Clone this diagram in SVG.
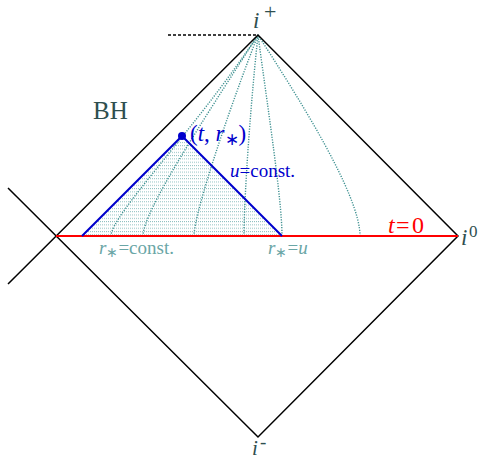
<svg xmlns="http://www.w3.org/2000/svg" width="482" height="461" viewBox="0 0 482 461">
<style>
text{font-family:"Liberation Serif","Times New Roman",serif}
.blk{stroke:#000;stroke-width:1.5;fill:none}
.rst{stroke:#3f9191;stroke-width:1.4;fill:none;stroke-dasharray:1.2 1.4}
.it{font-style:italic}
.dk{fill:#2f4f4f}
.tl{fill:#6aa6a6}
.bl{fill:#0000cc}
</style>
<defs>
<pattern id="dots" x="0" y="0" width="2" height="3.3" patternUnits="userSpaceOnUse">
<rect x="0" y="0" width="1" height="1" fill="#8fc0c0"/>
</pattern>
</defs>
<rect width="482" height="461" fill="#fff"/>
<g id="shading">
<polygon points="82,236 182,136 282,236" fill="url(#dots)"/>
</g>
<g id="connectors">
<path class="rst" d="M111,236 C111,215 195,130 258,35"/>
<path class="rst" d="M143,236 C143,212 200,125 258,35"/>
<path class="rst" d="M194,236 C194,215 225,120 258,35"/>
<path class="rst" d="M244,236 C244,200 250,110 258,35"/>
<path class="rst" d="M282,236 C282,200 268,110 258,35"/>
<path class="rst" d="M360,236 C360,195 300,100 258,35"/>
<line class="blk" x1="168" y1="35" x2="258" y2="35" stroke-dasharray="3 2"/>
<polyline class="blk" points="8,284 258,35 458,236 258,437 8,188"/>
<line x1="56" y1="236" x2="458" y2="236" stroke="#ff0000" stroke-width="2"/>
<polyline points="82,236 182,136 282,236" fill="none" stroke="#0000cc" stroke-width="2"/>
</g>
<g id="point">
<circle cx="182" cy="136" r="4" fill="#0000cc"/>
<text x="190" y="141" font-size="23" class="bl">(<tspan class="it">t</tspan>, <tspan class="it">r</tspan><tspan font-size="17" dy="4">∗</tspan><tspan dy="-4">)</tspan></text>
</g>
<g id="labels">
<text x="253" y="28" font-size="23" class="dk"><tspan class="it">i</tspan><tspan x="264" y="18.5" font-size="22">+</tspan></text>
<text x="461" y="245" font-size="23" class="dk"><tspan class="it">i</tspan><tspan x="469" y="237" font-size="17">0</tspan></text>
<text x="252" y="455" font-size="21" class="dk"><tspan class="it">i</tspan><tspan x="260" y="448" font-size="19">-</tspan></text>
<text x="93" y="119" font-size="25" class="dk">BH</text>
<text x="230" y="177" font-size="19" class="bl"><tspan class="it">u</tspan>=const.</text>
<text x="99" y="254" font-size="19" class="tl"><tspan class="it">r</tspan><tspan font-size="14" dy="3">∗</tspan><tspan dy="-3">=const.</tspan></text>
<text x="268" y="254" font-size="19" class="tl"><tspan class="it">r</tspan><tspan font-size="14" dy="3">∗</tspan><tspan dy="-3">=</tspan><tspan class="it">u</tspan></text>
<text y="233" font-size="24" fill="#ff0000"><tspan x="388" class="it">t</tspan><tspan x="396">=</tspan><tspan x="412">0</tspan></text>
</g>
</svg>
